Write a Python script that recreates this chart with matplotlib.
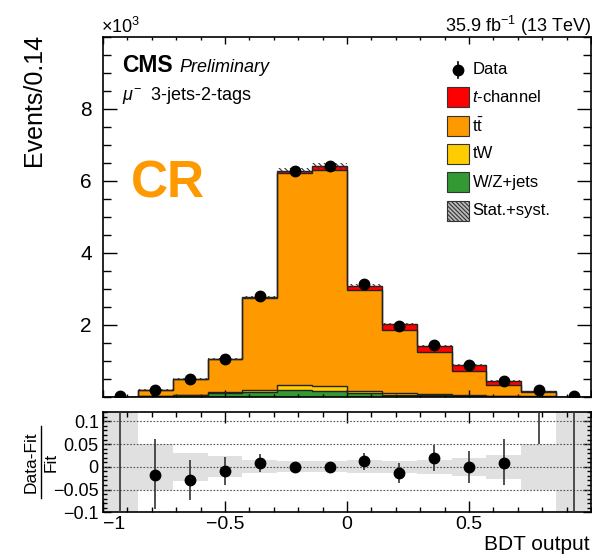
import numpy as np
import matplotlib
matplotlib.use('Agg')
import matplotlib.pyplot as plt
from matplotlib.patches import Rectangle
from matplotlib.lines import Line2D
from matplotlib.ticker import MultipleLocator

plt.rcParams['font.family'] = ['Liberation Sans', 'DejaVu Sans']
plt.rcParams['mathtext.fontset'] = 'custom'
plt.rcParams['mathtext.rm'] = 'Liberation Sans'
plt.rcParams['mathtext.it'] = 'Liberation Sans:italic'
plt.rcParams['mathtext.bf'] = 'Liberation Sans:bold'
plt.rcParams['hatch.linewidth'] = 0.8

# ---------------- data ----------------
x_low, x_high, n_bins = -1.0, 1.0, 14
data   = [15, 195, 495, 1040, 2790, 6270, 6400, 3130, 1970, 1430, 885, 440, 190, 15]
tchan  = [0, 2, 5, 10, 25, 60, 110, 130, 170, 180, 175, 120, 30, 0]
ttbar  = [0, 183, 450, 900, 2545, 5890, 5990, 2810, 1755, 1175, 670, 300, 110, 0]
tW     = [0, 5, 10, 45, 70, 140, 140, 60, 40, 30, 20, 10, 5, 0]
wzjets = [0, 10, 40, 90, 120, 190, 170, 90, 55, 35, 20, 10, 5, 0]
unc_rel = [1.0, 0.05, 0.031, 0.023, 0.014, 0.012, 0.012, 0.014, 0.013, 0.016, 0.02, 0.027, 0.05, 1.0]
ratio    = [0.5, -0.019, -0.030, -0.010, 0.009, 0.0, 0.0, 0.013, -0.013, 0.019, 0.0, 0.009, 0.20, 0.5]
ratio_lo = [1.0, 0.074, 0.042, 0.030, 0.020, 0.012, 0.011, 0.019, 0.023, 0.029, 0.035, 0.050, 0.15, 1.0]
ratio_hi = [1.0, 0.080, 0.044, 0.032, 0.020, 0.008, 0.010, 0.018, 0.022, 0.028, 0.035, 0.052, 0.15, 1.0]
main_yticks = [2000, 4000, 6000, 8000]
main_yticklabels = ['2', '4', '6', '8']
ratio_yticks = [0.1, 0.05, 0.0, -0.05, -0.1]
ratio_yticklabels = ['0.1', '0.05', '0', '\u22120.05', '\u22120.1']
ratio_xticks = [-1.0, -0.5, 0.0, 0.5]
ratio_xticklabels = ['\u22121', '\u22120.5', '0', '0.5']
legend_labels = ['Data', r'$\mathit{t}$-channel', r'$\mathrm{t}\bar{\mathrm{t}}$', 'tW', 'W/Z+jets', 'Stat.+syst.']
colors = {'tchan': '#ff0000', 'ttbar': '#ff9900', 'tW': '#ffcc00', 'wz': '#339933'}

# ---------------- figure ----------------
W, H = 592, 554
fig = plt.figure(figsize=(W / 100, H / 100), dpi=100)

def fx(px):
    return px / W

def fy(py):
    return 1 - py / H

L, R = 103, 591
ax = fig.add_axes([fx(L), fy(396.7), (R - L) / W, (396.7 - 37) / H])
rax = fig.add_axes([fx(L), fy(512.3), (R - L) / W, (512.3 - 412.3) / H])

edges = np.linspace(x_low, x_high, n_bins + 1)
centers = 0.5 * (edges[1:] + edges[:-1])

# stack
base = np.zeros(n_bins)
for vals, key in [(wzjets, 'wz'), (tW, 'tW'), (ttbar, 'ttbar'), (tchan, 'tchan')]:
    v = np.asarray(vals, float)
    ax.stairs(base + v, edges, baseline=base, fill=True, color=colors[key], lw=0, zorder=1)
    base = base + v
    ax.stairs(base, edges, baseline=None, color='#222222', lw=1.0, zorder=2)
total = base

band = total * np.asarray(unc_rel)
ax.stairs(total + band, edges, baseline=total - band, fill=True, facecolor='none',
          edgecolor='#333333', hatch='\\\\\\\\\\\\', lw=0, zorder=3)

d = np.asarray(data, float)
ax.errorbar(centers, d, yerr=np.sqrt(d), fmt='o', color='k', ms=7.5, elinewidth=1.2,
            capsize=0, zorder=5)

ax.set_xlim(x_low, x_high)
ax.set_ylim(0, 10000)
ax.xaxis.set_major_locator(MultipleLocator(0.5))
ax.xaxis.set_minor_locator(MultipleLocator(0.1))
ax.set_yticks(main_yticks, labels=main_yticklabels)
ax.yaxis.set_minor_locator(MultipleLocator(500))
ax.tick_params(which='both', direction='in', top=True, right=True, labelbottom=False, width=1)
ax.tick_params(axis='y', which='major', length=10, labelsize=15, pad=8)
ax.tick_params(axis='y', which='minor', length=5.5)
ax.tick_params(axis='x', which='major', length=5)
ax.tick_params(axis='x', which='minor', length=2.5)
for s in ax.spines.values():
    s.set_linewidth(1.2)

# texts on main
fig.text(fx(101), fy(33), r'$\times\mathrm{10}^{3}$', fontsize=13, ha='left', va='baseline')
fig.text(fx(591), fy(32), r'35.9 fb$^{-1}$ (13 TeV)', fontsize=13, ha='right', va='baseline')
fig.text(34 / W, fy(34), 'Events/0.14', rotation=90, ha='center', va='top', fontsize=18)
fig.text(fx(122), fy(72), 'CMS', fontsize=16.5, fontweight='bold', ha='left', va='baseline')
fig.text(fx(179), fy(72), 'Preliminary', fontsize=13, style='italic', ha='left', va='baseline')
fig.text(fx(122), fy(100), r'$\mu^{-}$  3-jets-2-tags', fontsize=13, ha='left', va='baseline')
fig.text(fx(131), fy(198), 'CR', fontsize=37, fontweight='bold', color=colors['ttbar'],
         ha='left', va='baseline')

# legend (manual)
def axx(px):
    return (px - L) / (R - L)

def axy(py):
    return (396.7 - py) / (396.7 - 37)

ys = [70, 97, 126, 154, 182, 210.7]
bx, bw, bh = axx(447), 22 / (R - L), 20 / (396.7 - 37)
ax.add_line(Line2D([axx(458), axx(458)], [axy(62), axy(78)], color='k', lw=1.2,
                   transform=ax.transAxes))
ax.add_line(Line2D([axx(458)], [axy(ys[0])], marker='o', ms=7.5, color='k',
                   transform=ax.transAxes))
box_specs = [(colors['tchan'], None), (colors['ttbar'], None), (colors['tW'], None),
             (colors['wz'], None), ('#bbbbbb', '\\\\\\\\\\\\\\\\')]
for (fc, hatch), yy in zip(box_specs, ys[1:]):
    ax.add_patch(Rectangle((bx, axy(yy) - bh / 2), bw, bh, transform=ax.transAxes,
                           facecolor=fc, edgecolor='#333333', lw=0.8, hatch=hatch, zorder=6))
for lab, yy in zip(legend_labels, ys):
    ax.text(axx(472.5), axy(yy), lab, transform=ax.transAxes, fontsize=12,
            ha='left', va='center', zorder=6)

# ---------------- ratio panel ----------------
ur = np.asarray(unc_rel)
rax.stairs(ur, edges, baseline=-ur, fill=True, color='#e0e0e0', lw=0, zorder=1)
for yv in ratio_yticks[:-1]:
    rax.axhline(yv, color='#555555', lw=0.8, ls=(0, (1.5, 1.5)), zorder=2)
rax.errorbar(centers, ratio, yerr=[ratio_lo, ratio_hi], fmt='o', color='k', ecolor='#333333',
             ms=7.5, elinewidth=1.2, capsize=0, zorder=5)
rax.set_xlim(x_low, x_high)
rax.set_ylim(-0.1, 0.12)
rax.set_xticks(ratio_xticks, labels=ratio_xticklabels)
rax.xaxis.set_minor_locator(MultipleLocator(0.1))
rax.set_yticks(ratio_yticks, labels=ratio_yticklabels)
rax.yaxis.set_minor_locator(MultipleLocator(0.01))
rax.tick_params(which='both', direction='in', top=True, right=True, width=1)
rax.tick_params(axis='x', which='major', length=8, labelsize=14, pad=3)
rax.tick_params(axis='x', which='minor', length=3.6)
rax.tick_params(axis='y', which='major', length=6, labelsize=13, pad=3)
rax.tick_params(axis='y', which='minor', length=3)
for s in rax.spines.values():
    s.set_linewidth(1.2)
# keep the "-1" x label clear of the "-0.1" y label
rax.get_xticklabels()[0].set_horizontalalignment('left')

fig.text(fx(590), fy(550), 'BDT output', fontsize=15, ha='right', va='baseline')
fig.text(fx(31), fy(462), 'Data-Fit', fontsize=12.5, rotation=90, ha='center', va='center')
fig.add_artist(Line2D([fx(41), fx(41)], [fy(426), fy(498)], color='k', lw=1))
fig.text(fx(51), fy(462), 'Fit', fontsize=12.5, rotation=90, ha='center', va='center')

fig.savefig('out.png', dpi=100)
